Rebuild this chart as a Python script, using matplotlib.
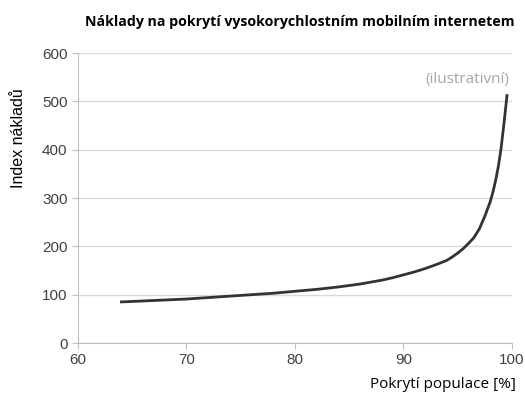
import matplotlib.pyplot as plt

plt.rcParams['font.family'] = 'Liberation Sans'

# values (illustrative cost curve)
pokryti = [64, 66, 68, 70, 72, 74, 76, 78, 80, 82, 84, 86, 88, 89, 90, 91, 92, 93, 94,
           94.5, 95, 95.5, 96, 96.5, 97, 97.5, 98, 98.25, 98.5, 98.75, 99, 99.25, 99.55]
naklady = [85, 87, 89, 91, 94, 97, 100, 103, 107, 111, 116, 122, 130, 135, 141, 147, 154, 162, 171,
           178, 186, 195, 206, 218, 236, 262, 292, 312, 336, 365, 402, 450, 512]
xticks = [60, 70, 80, 90, 100]
yticks = [0, 100, 200, 300, 400, 500, 600]

fig = plt.figure(figsize=(5.25, 4.01), dpi=100)
ax = fig.add_axes([0.1486, 0.1446, 0.8264, 0.7232])

ax.plot(pokryti, naklady, color='#333333', lw=2, solid_joinstyle='round')

ax.set_xlim(60, 100)
ax.set_ylim(0, 600)
ax.set_xticks(xticks)
ax.set_yticks(yticks)
ax.grid(axis='y', color='#d9d9d9', lw=1)
ax.set_axisbelow(True)
for s in ['top', 'right']:
    ax.spines[s].set_visible(False)
for s in ['left', 'bottom']:
    ax.spines[s].set_color('#bfbfbf')
ax.tick_params(length=4, color='#bfbfbf', labelcolor='#404040', labelsize=11)

fig.text(0.572, 0.945, 'Náklady na pokrytí vysokorychlostním mobilním internetem',
         ha='center', va='center', fontsize=10.2, fontweight='bold', family='Open Sans')
fig.text(0.035, 0.655, 'Index nákladů', rotation=90, ha='center', va='center',
         fontsize=11.5)
fig.text(0.982, 0.04, 'Pokrytí populace [%]', ha='right', va='center',
         fontsize=11, family='Open Sans')
ax.text(99.8, 545, '(ilustrativní)', ha='right', va='center', fontsize=11,
        color='#a6a6a6', family='Open Sans')

fig.savefig('out.png')
